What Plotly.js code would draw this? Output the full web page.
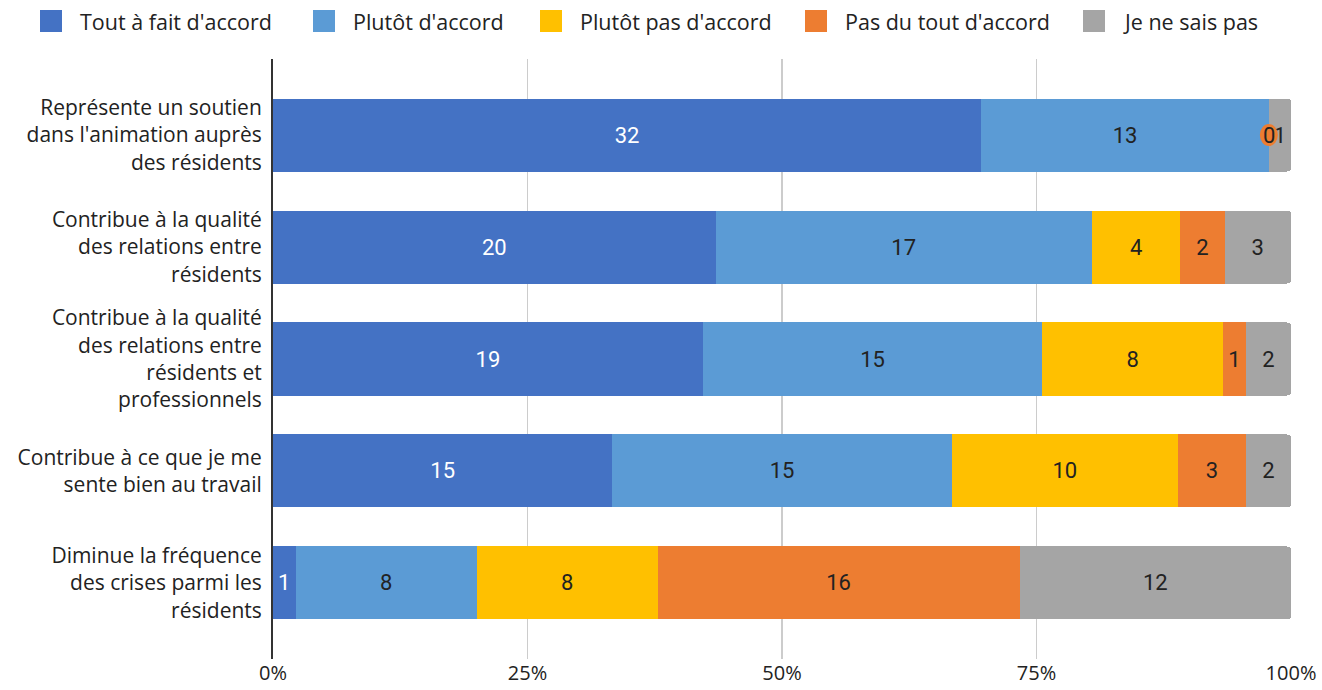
<!DOCTYPE html>
<html>
<head>
<meta charset="utf-8">
<script src="https://cdn.plot.ly/plotly-3.0.1.min.js"></script>
<style>html,body{margin:0;padding:0;background:#fff;}#chart{width:1322px;height:690px;}</style>
</head>
<body>
<div id="chart"></div>
<script>
// ---- data ----
const categories = [
  "Représente un soutien<br>dans l'animation auprès<br>des résidents",
  "Contribue à la qualité<br>des relations entre<br>résidents",
  "Contribue à la qualité<br>des relations entre<br>résidents et<br>professionnels",
  "Contribue à ce que je me<br>sente bien au travail",
  "Diminue la fréquence<br>des crises parmi les<br>résidents"
];
const seriesNames = ["Tout à fait d'accord", "Plutôt d'accord", "Plutôt pas d'accord", "Pas du tout d'accord", "Je ne sais pas"];
const toutAFait   = [32, 20, 19, 15, 1];
const plutotAcc   = [13, 17, 15, 15, 8];
const plutotPas   = [0, 4, 8, 10, 8];
const pasDuTout   = [0, 2, 1, 3, 16];
const neSaisPas   = [1, 3, 2, 2, 12];
const tickVals = [0, 0.25, 0.5, 0.75, 1];
const tickText = ["0%", "25%", "50%", "75%", "100%"];

// ---- styles ----
const colors = ["#4472C4", "#5B9BD5", "#FFC000", "#ED7D31", "#A5A5A5"];
const textColors = ["#ffffff", "#222222", "#222222", "#222222", "#222222"];
const series = [toutAFait, plutotAcc, plutotPas, pasDuTout, neSaisPas];
const totals = categories.map((c, i) => series.reduce((s, arr) => s + arr[i], 0));
const labelFont = "Roboto, 'Liberation Sans', sans-serif";
const mainFont = "'Open Sans', sans-serif";

const traces = series.map((vals, k) => ({
  type: "bar",
  orientation: "h",
  name: seriesNames[k],
  y: categories,
  x: vals.map((v, i) => v / totals[i]),
  text: vals.map(v => v === 0 ? "" : String(v)),
  textposition: "inside",
  insidetextanchor: "middle",
  constraintext: "none",
  textfont: {family: labelFont, size: 22, color: textColors[k]},
  marker: {color: colors[k], line: {width: 0}},
  hoverinfo: "skip",
  showlegend: false
}));

// zero-value labels (drawn as in the reference, with an orange dot)
const shapes = [];
const annotations = [];
categories.forEach((c, i) => {
  let cum = 0;
  let zeroAt = null;
  series.forEach((vals, k) => {
    if (vals[i] === 0) zeroAt = {x: cum / totals[i], k: k};
    cum += vals[i];
  });
  if (zeroAt) {
    shapes.push({type: "circle", xref: "x", yref: "y", xsizemode: "pixel", ysizemode: "pixel",
      xanchor: zeroAt.x, yanchor: c, x0: -9, x1: 9, y0: -11, y1: 11,
      fillcolor: colors[zeroAt.k], line: {width: 0}, layer: "above"});
    annotations.push({xref: "x", yref: "y", x: zeroAt.x, y: c, text: "0", showarrow: false,
      font: {family: labelFont, size: 22, color: "#222"}});
  }
});

// custom legend
const legendX = [40, 313, 540, 805, 1083];
const W = 1322, H = 690;
const PL = 273, PR = 1291, PT = 59, PB = 659;
seriesNames.forEach((name, k) => {
  const x0 = legendX[k];
  shapes.push({type: "rect", xref: "paper", yref: "paper",
    x0: (x0 - PL) / (PR - PL), x1: (x0 + 22 - PL) / (PR - PL),
    y0: (PB - 32) / (PB - PT), y1: (PB - 10) / (PB - PT),
    fillcolor: colors[k], line: {width: 0}, layer: "above"});
  annotations.push({xref: "paper", yref: "paper", xanchor: "left", yanchor: "middle",
    x: (x0 + 38 - PL) / (PR - PL), y: (PB - 21) / (PB - PT), text: name, showarrow: false,
    font: {family: mainFont, size: 21.5, color: "#222"}});
});

const layout = {
  width: W, height: H,
  margin: {l: PL, r: W - PR, t: PT, b: H - PB},
  barmode: "stack",
  bargap: 0.348,
  barcornerradius: 4,
  showlegend: false,
  paper_bgcolor: "#fff",
  plot_bgcolor: "#fff",
  font: {family: mainFont, color: "#222"},
  xaxis: {
    range: [0, 1], tickvals: tickVals, ticktext: tickText,
    showgrid: true, gridcolor: "#cccccc", gridwidth: 1.5,
    zeroline: false, showline: false,
    ticks: "", 
    tickfont: {family: mainFont, size: 20, color: "#222"},
    fixedrange: true
  },
  yaxis: {
    type: "category",
    range: [4.679, -0.679],
    showgrid: false, zeroline: false,
    showline: true, linecolor: "#333", linewidth: 2,
    ticks: "outside", ticklen: 5, tickcolor: "rgba(0,0,0,0)",
    tickfont: {family: mainFont, size: 21, color: "#222"},
    fixedrange: true
  },
  shapes: shapes,
  annotations: annotations
};

Plotly.newPlot("chart", traces, layout, {displayModeBar: false, staticPlot: true});
</script>
</body>
</html>
